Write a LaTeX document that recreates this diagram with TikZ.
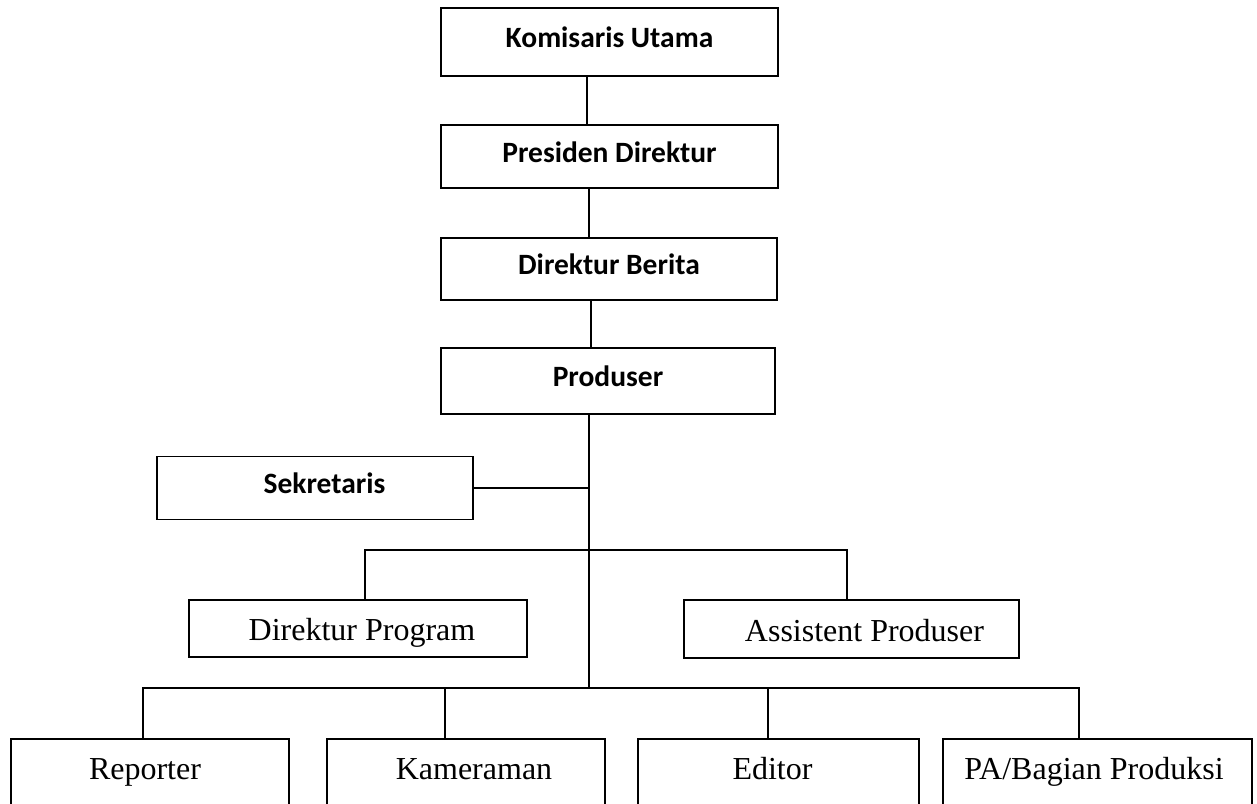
\documentclass[tikz,border=0pt]{standalone}
\usepackage{fontspec}
\setmainfont{Liberation Serif}
\newfontfamily\calibri{Carlito}
\begin{document}
\begin{tikzpicture}[x=1pt,y=-1pt,
  box/.style={draw,line width=1.7pt,inner sep=0pt,align=center},
  topbox/.style={box,font=\calibri\bfseries\fontsize{29.5}{34}\selectfont,text height=19pt,text depth=8pt},
  lowbox/.style={box,font=\fontsize{32}{36}\selectfont,text height=30pt,text depth=6pt},
  botbox/.style={box,font=\fontsize{32}{36}\selectfont,text height=22pt,text depth=8pt},
  conn/.style={line width=1.7pt}]
\useasboundingbox (0,0) rectangle (1257,803);
\clip (0,0) rectangle (1257,803);
\fill[white] (0,0) rectangle (1257,803);
% top chain
\node[topbox,minimum width=337pt,minimum height=68pt] (kom) at (609.5,42) {Komisaris Utama};
\node[topbox,minimum width=337pt,minimum height=63pt] (pres) at (609.5,156.5) {Presiden Direktur};
\node[topbox,minimum width=336pt,minimum height=62pt] (ber) at (609,269) {Direktur Berita};
\node[topbox,minimum width=334pt,minimum height=66pt] (prod) at (608,381) {Produser};
\node[topbox,minimum width=316pt,minimum height=63pt] (sek) at (315,488) {\hspace*{19pt}Sekretaris};
% middle
\node[lowbox,minimum width=338pt,minimum height=57pt] (dprog) at (358,628.5) {\hspace*{8pt}Direktur Program};
\node[lowbox,minimum width=335pt,minimum height=58pt] (asst) at (851.5,629) {\hspace*{26pt}Assistent Produser};
% bottom
\node[botbox,minimum width=278pt,minimum height=66pt] (rep) at (150,772) {Reporter\hspace*{10pt}};
\node[botbox,minimum width=278pt,minimum height=66pt] (kam) at (466,772) {\hspace*{16pt}Kameraman};
\node[botbox,minimum width=281pt,minimum height=66pt] (edit) at (778.5,772) {Editor\hspace*{12pt}};
\node[botbox,minimum width=309pt,minimum height=66pt] (pa) at (1097.5,772) {PA/Bagian Produksi\hspace*{7pt}};
% connector coordinates
\coordinate (c1) at (587,0);
\coordinate (c2) at (589,0);
\coordinate (c3) at (591,0);
\coordinate (b1) at (589,550);
\coordinate (b2) at (589,688);
\coordinate (xdp) at (365,550);
\coordinate (xas) at (847,550);
\coordinate (r1) at (143,688);
\coordinate (r2) at (445,688);
\coordinate (r3) at (768,688);
\coordinate (r4) at (1079,688);
% connectors
\draw[conn] (kom.south -| c1) -- (pres.north -| c1);
\draw[conn] (pres.south -| c2) -- (ber.north -| c2);
\draw[conn] (ber.south -| c3) -- (prod.north -| c3);
\draw[conn] (prod.south -| b2) -- (b2);
\draw[conn] (sek.east) -- (sek.east -| b1);
\draw[conn] (dprog.north -| xdp) -- (xdp) -- (xas) -- (asst.north -| xas);
\draw[conn] (rep.north -| r1) -- (r1) -- (r4) -- (pa.north -| r4);
\draw[conn] (kam.north -| r2) -- (r2);
\draw[conn] (edit.north -| r3) -- (r3);
\end{tikzpicture}
\end{document}
